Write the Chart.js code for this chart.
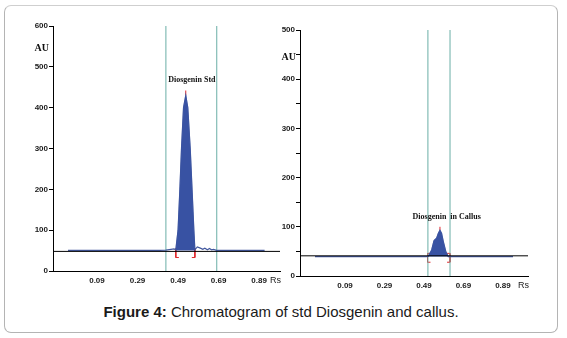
<!DOCTYPE html>
<html>
<head>
<meta charset="utf-8">
<script src="https://cdn.jsdelivr.net/npm/chart.js@4.4.0/dist/chart.umd.min.js"></script>
<style>
  html, body { margin: 0; padding: 0; background: #fff; }
  #page { position: relative; width: 567px; height: 338px; overflow: hidden; }
  #frame {
    position: absolute; left: 4px; top: 5px; width: 552px; height: 326px;
    border: 1px solid #b4b4b4; border-top-color: #cfcfcf; border-radius: 7px;
  }
  #stdWrap { position: absolute; left: 0; top: 0; width: 283px; height: 300px; }
  #callusWrap { position: absolute; left: 270px; top: 0; width: 297px; height: 300px; }
  #caption {
    position: absolute; left: 4px; width: 554px; top: 303px; text-align: center;
    font-family: "Liberation Sans", Arial, sans-serif; font-size: 15px; color: #1a1a1a;
  }
</style>
</head>
<body>
<div id="page">
  <div id="frame"></div>
  <div id="stdWrap"><canvas id="stdChart"></canvas></div>
  <div id="callusWrap"><canvas id="callusChart"></canvas></div>
  <div id="caption"><b>Figure 4:</b> Chromatogram of std Diosgenin and callus.</div>
</div>
<script>
// x tick labels (Rs)
const rsTicks = [0.09, 0.29, 0.49, 0.69, 0.89];

// std Diosgenin trace
const stdRs = [-0.053, 0.40, 0.43, 0.455, 0.47, 0.479, 0.490, 0.499, 0.507, 0.517, 0.528,
  0.538, 0.550, 0.559, 0.568, 0.573, 0.585, 0.600, 0.612, 0.622, 0.635, 0.645, 0.655,
  0.665, 0.680, 0.917];
const stdAU = [50.5, 50.5, 51, 53, 54, 52, 100, 200, 300, 400, 430,
  400, 300, 200, 100, 52, 59, 56, 53, 56, 52, 55, 52,
  53, 50.5, 50.5];
const stdPeak = { rs: 0.528, start: 0.479, end: 0.573, top: 442 };
const stdWindow = [0.43, 0.681];
const stdBaseline = 48;

// Diosgenin in callus trace
const callusRs = [-0.062, 0.50, 0.512, 0.529, 0.541, 0.554, 0.563, 0.571, 0.579, 0.588,
  0.601, 0.613, 0.941];
const callusAU = [39.5, 39.5, 40, 53, 72, 77, 87, 93, 87, 70,
  49, 39.5, 39.5];
const callusPeak = { rs: 0.571, start: 0.508, end: 0.622, top: 100 };
const callusWindow = [0.51, 0.622];
const callusBaseline = 41;

const tickFont = { family: "'Liberation Sans', Arial, sans-serif", size: 8, weight: "bold" };

function pts(xs, ys) {
  return xs.map((x, i) => ({ x: x, y: ys[i] }));
}

function line(data, color, width) {
  return { data: data, showLine: true, borderColor: color, borderWidth: width,
    pointRadius: 0, fill: false, tension: 0 };
}

function bracket(x, dir, top, bottom, foot) {
  return [{ x: x + dir * foot, y: top }, { x: x, y: top }, { x: x, y: bottom }, { x: x + dir * foot, y: bottom }];
}

// text labels placed through the scales
const labelsPlugin = {
  id: "labels",
  afterDatasetsDraw(chart, args, opts) {
    const ctx = chart.ctx;
    const xs = chart.scales.x, ys = chart.scales.y;
    ctx.save();
    ctx.fillStyle = "#111";
    ctx.font = "bold 10px 'Liberation Serif', 'Times New Roman', serif";
    ctx.textAlign = "right";
    ctx.textBaseline = "middle";
    ctx.fillText("AU", chart.chartArea.left - 4, ys.getPixelForValue(opts.auAt));
    ctx.font = "bold 8px 'Liberation Serif', 'Times New Roman', serif";
    ctx.textAlign = "center";
    ctx.fillText(opts.peakLabel, xs.getPixelForValue(opts.labelX), ys.getPixelForValue(opts.labelY));
    ctx.font = "9px 'Liberation Sans', Arial, sans-serif";
    ctx.fillStyle = "#222";
    ctx.textAlign = "right";
    ctx.textBaseline = "middle";
    ctx.fillText("Rs", chart.chartArea.right + 1, chart.chartArea.bottom + 10);
    ctx.restore();
  }
};

function makeChart(id, cfg) {
  const trace = pts(cfg.rs, cfg.au);
  const fillPts = trace.filter(p => p.x >= cfg.peak.start && p.x <= cfg.peak.end);
  const datasets = [
    line([{ x: cfg.xMin, y: cfg.baseline }, { x: cfg.xMax, y: cfg.baseline }], "#000", 1),
    Object.assign(line(fillPts, "#3852a3", 0.5), { fill: { value: cfg.au[0] }, backgroundColor: "#3852a3" }),
    line(trace, "#43599f", 1.2),
    line([{ x: cfg.window[0], y: 0 }, { x: cfg.window[0], y: cfg.yMax }], "#6aaea6", 1),
    line([{ x: cfg.window[1], y: 0 }, { x: cfg.window[1], y: cfg.yMax }], "#6aaea6", 1),
    line([{ x: cfg.peak.rs, y: cfg.peakTop0 }, { x: cfg.peak.rs, y: cfg.peak.top }], "#e0262a", 1),
    line(bracket(cfg.peak.start, 1, cfg.brTop, cfg.brBottom, 0.015), "#e0262a", 1),
    line(bracket(cfg.peak.end, -1, cfg.brTop, cfg.brBottom, 0.015), "#e0262a", 1)
  ];
  return new Chart(document.getElementById(id), {
    type: "scatter",
    data: { datasets: datasets },
    plugins: [labelsPlugin],
    options: {
      responsive: true,
      maintainAspectRatio: false,
      animation: false,
      layout: { padding: { top: cfg.padTop, right: cfg.padRight, left: 0, bottom: 0 } },
      plugins: {
        legend: { display: false },
        tooltip: { enabled: false },
        labels: { auAt: cfg.auAt, peakLabel: cfg.peakLabel, labelX: cfg.labelX, labelY: cfg.labelY }
      },
      scales: {
        x: {
          type: "linear", min: cfg.xMin, max: cfg.xMax,
          afterBuildTicks: axis => { axis.ticks = rsTicks.map(v => ({ value: v })); },
          afterFit: s => { s.height = cfg.xHeight; },
          ticks: { autoSkip: false, maxRotation: 0, padding: 5, color: "#1a1a1a", font: tickFont,
            callback: v => v.toFixed(2) },
          grid: { display: false, drawTicks: false },
          border: { display: true, color: "#000", width: 1 }
        },
        y: {
          min: 0, max: cfg.yMax,
          afterFit: s => { s.width = cfg.yWidth; },
          ticks: { stepSize: cfg.yStep, padding: 1, color: "#1a1a1a", font: tickFont,
            callback: v => (v % 100 === 0 ? v : "") },
          grid: { drawOnChartArea: false, tickLength: 4, color: "#000" },
          border: { display: true, color: "#000", width: 1 }
        }
      }
    }
  });
}

makeChart("stdChart", {
  rs: stdRs, au: stdAU, peak: stdPeak, window: stdWindow, baseline: stdBaseline,
  xMin: -0.127, xMax: 0.993, yMax: 600, yStep: 100,
  peakTop0: 430, brTop: 55, brBottom: 33,
  padTop: 26, padRight: 3, yWidth: 53, xHeight: 29,
  auAt: 546, peakLabel: "Diosgenin Std", labelX: 0.558, labelY: 468
});

makeChart("callusChart", {
  rs: callusRs, au: callusAU, peak: callusPeak, window: callusWindow, baseline: callusBaseline,
  xMin: -0.138, xMax: 1.017, yMax: 500, yStep: 50,
  peakTop0: 93, brTop: 46, brBottom: 28,
  padTop: 30, padRight: 39, yWidth: 30, xHeight: 24,
  auAt: 445, peakLabel: "Diosgenin  in Callus", labelX: 0.605, labelY: 120
});
</script>
</body>
</html>
